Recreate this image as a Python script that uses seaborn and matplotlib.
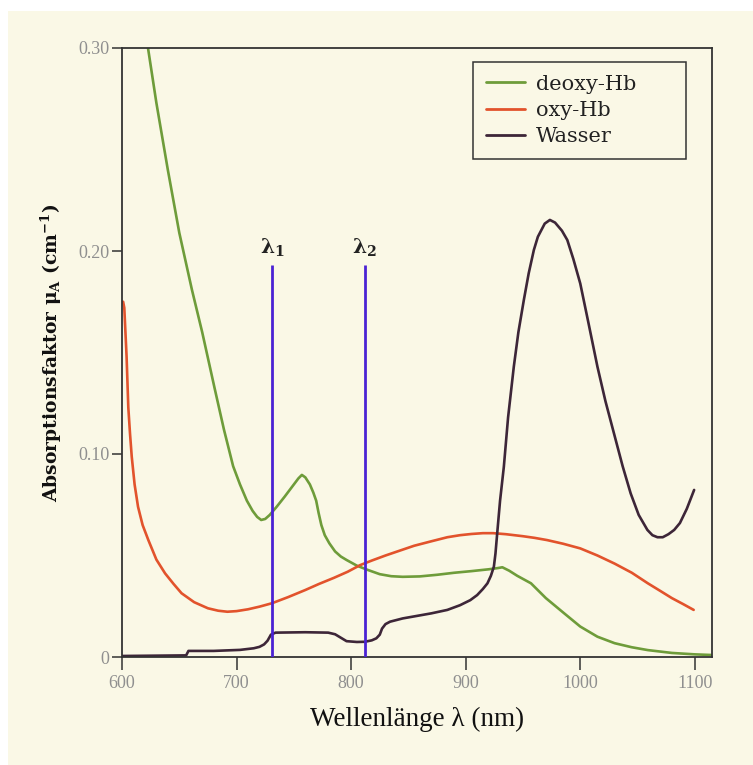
import matplotlib
matplotlib.use("Agg")
import matplotlib.pyplot as plt
import numpy as np
import pandas as pd
import seaborn as sns
from matplotlib.patches import Rectangle

# Absorptionsspektren
wl_deoxy = [618, 622.7, 630, 640, 650, 661, 670, 681, 689, 697, 703, 709, 714,
            718, 721.5, 725, 729, 735, 742, 750, 754, 757, 760, 764, 767, 769.5,
            771.6, 774, 777, 781, 786, 791, 796, 805, 814, 825, 835, 845, 860,
            875, 890, 905, 920, 928, 932, 938, 945, 957, 970, 986, 1000, 1015,
            1030, 1045, 1059, 1080, 1100, 1114]
mu_deoxy = [0.32, 0.30, 0.273, 0.240, 0.209, 0.181, 0.160, 0.132, 0.112, 0.094,
            0.085, 0.077, 0.072, 0.069, 0.0675, 0.068, 0.070, 0.074, 0.079,
            0.085, 0.088, 0.0897, 0.0885, 0.085, 0.081, 0.077, 0.071, 0.065,
            0.060, 0.056, 0.052, 0.0495, 0.0478, 0.045, 0.043, 0.0408, 0.0398,
            0.0395, 0.0397, 0.0405, 0.0415, 0.0423, 0.0432, 0.0438, 0.0442,
            0.0425, 0.040, 0.0363, 0.029, 0.0215, 0.015, 0.010, 0.0068, 0.0048,
            0.0034, 0.002, 0.0013, 0.001]

wl_oxy = [601, 602, 603, 604, 605.5, 607, 608.5, 611, 614, 618, 623, 630,
          637.6, 645, 652, 663, 675, 684, 692, 700, 710, 720, 731, 745, 760,
          772, 785, 797, 808, 818, 830, 843, 855, 870, 884, 895, 905, 915, 924,
          935, 950, 960, 971, 985, 1000, 1015, 1030, 1045, 1059, 1070, 1080,
          1090, 1099]
mu_oxy = [0.175, 0.172, 0.160, 0.148, 0.123, 0.110, 0.0987, 0.085, 0.074, 0.065,
          0.0576, 0.048, 0.0412, 0.036, 0.0314, 0.027, 0.024, 0.0228, 0.0223,
          0.0226, 0.0235, 0.0248, 0.0265, 0.0295, 0.033, 0.036, 0.039, 0.042,
          0.0453, 0.0475, 0.050, 0.0525, 0.0548, 0.057, 0.059, 0.060, 0.0606,
          0.061, 0.061, 0.0605, 0.0595, 0.0587, 0.0576, 0.0558, 0.0535, 0.050,
          0.046, 0.0415, 0.0363, 0.0325, 0.029, 0.026, 0.0232]

wl_wasser = [600, 656, 658, 680, 703, 715, 720, 724, 727, 730, 734, 760, 780,
             786, 791, 796, 805, 812, 818, 822, 825, 827, 830, 834, 845, 855,
             870, 884, 895, 904, 910, 915, 919, 922, 924.6, 926, 927.5, 930,
             933.3, 937, 942, 946, 950.8, 955, 959.5, 963, 969, 973.5, 978, 984,
             988.7, 994, 1000, 1007, 1015, 1022, 1029.5, 1037, 1044, 1051,
             1058.6, 1063, 1067.4, 1072, 1077, 1082, 1087, 1093, 1099.4]
mu_wasser = [0.0005, 0.0008, 0.003, 0.003, 0.0035, 0.0043, 0.005, 0.0062,
             0.008, 0.011, 0.012, 0.0122, 0.012, 0.0112, 0.0095, 0.0078, 0.0074,
             0.0075, 0.0082, 0.0092, 0.011, 0.014, 0.0162, 0.0174, 0.019, 0.020,
             0.0215, 0.0232, 0.0255, 0.028, 0.0305, 0.0335, 0.0363, 0.040,
             0.0445, 0.051, 0.0609, 0.077, 0.0937, 0.118, 0.143, 0.160, 0.176,
             0.189, 0.2005, 0.207, 0.2135, 0.2153, 0.214, 0.210, 0.2054, 0.196,
             0.184, 0.165, 0.143, 0.126, 0.110, 0.094, 0.0806, 0.070, 0.0626,
             0.060, 0.059, 0.059, 0.0605, 0.0626, 0.066, 0.073, 0.0823]

lambda_pos = [731, 812]
lambda_labels = [r"λ$_1$", r"λ$_2$"]
lambda_top = 0.193

x_ticks = [600, 700, 800, 900, 1000, 1100]
y_ticks = [0, 0.10, 0.20, 0.30]
y_ticklabels = ["0", "0.10", "0.20", "0.30"]

CREME = "#faf8e6"
sns.set_theme(style="white")
plt.rcParams["font.family"] = ["DejaVu Serif"]
plt.rcParams["mathtext.default"] = "regular"

fig = plt.figure(figsize=(7.53, 7.65), dpi=100, facecolor="white")
fig.patches.append(Rectangle((8 / 753, 0), 1, 1 - 11 / 765,
                             transform=fig.transFigure, facecolor=CREME,
                             edgecolor="none", zorder=-10))
ax = fig.add_axes([122 / 753, 1 - 657 / 765, 590 / 753, 609 / 765])
ax.set_facecolor(CREME)

serien = [
    ("deoxy-Hb", wl_deoxy, mu_deoxy, "#6e9c3a"),
    ("oxy-Hb", wl_oxy, mu_oxy, "#e2532c"),
    ("Wasser", wl_wasser, mu_wasser, "#3d2638"),
]
for name, wl, mu, farbe in serien:
    df = pd.DataFrame({"wl": wl, "mu": mu})
    sns.lineplot(data=df, x="wl", y="mu", color=farbe, linewidth=1.9,
                 label=name, sort=False, ax=ax)
for line in ax.get_lines():
    line.set_solid_joinstyle("round")
    line.set_solid_capstyle("round")

ax.vlines(lambda_pos, 0, lambda_top, color="#4a22d4", linewidth=2.0, zorder=5)
for pos, lab in zip(lambda_pos, lambda_labels):
    ax.text(pos, lambda_top + 0.003, lab, ha="center", va="bottom",
            fontsize=14.5, fontweight="bold", color="#222222")

ax.set_xlim(600, 1115)
ax.set_ylim(0, 0.30)
ax.set_xticks(x_ticks)
ax.set_yticks(y_ticks)
ax.set_yticklabels(y_ticklabels)
for lab in ax.get_xticklabels() + ax.get_yticklabels():
    lab.set_family("Liberation Serif")
ax.tick_params(axis="both", direction="out", width=1.1, color="#333333",
               labelcolor="#8f8f8f", labelsize=13, bottom=True, left=True)
ax.tick_params(axis="x", length=9, pad=4)
ax.tick_params(axis="y", length=7, pad=2)

for sp in ax.spines.values():
    sp.set_color("#333333")
    sp.set_linewidth(1.3)

ax.set_xlabel("Wellenlänge λ (nm)", family="Liberation Serif", fontsize=19.5,
              color="#111111", labelpad=11)
ax.set_ylabel("Absorptionsfaktor μ$_A$ (cm$^{-1}$)", fontsize=13.5,
              fontweight="bold", color="#111111", labelpad=10)

leg = ax.legend(loc="upper left", bbox_to_anchor=(0.595, 0.0, 0.361, 0.977),
                mode="expand", frameon=True, fancybox=False, fontsize=15,
                handlelength=1.9, handletextpad=0.5, borderpad=0.6,
                labelspacing=0.35, borderaxespad=0)
leg.get_frame().set_edgecolor("#333333")
leg.get_frame().set_linewidth(1.1)
leg.get_frame().set_facecolor(CREME)
leg.get_frame().set_alpha(1)
for line in leg.get_lines():
    line.set_linewidth(2.0)
for t in leg.get_texts():
    t.set_color("#222222")

fig.savefig("out.png", dpi=100, facecolor=fig.get_facecolor())
plt.close(fig)
